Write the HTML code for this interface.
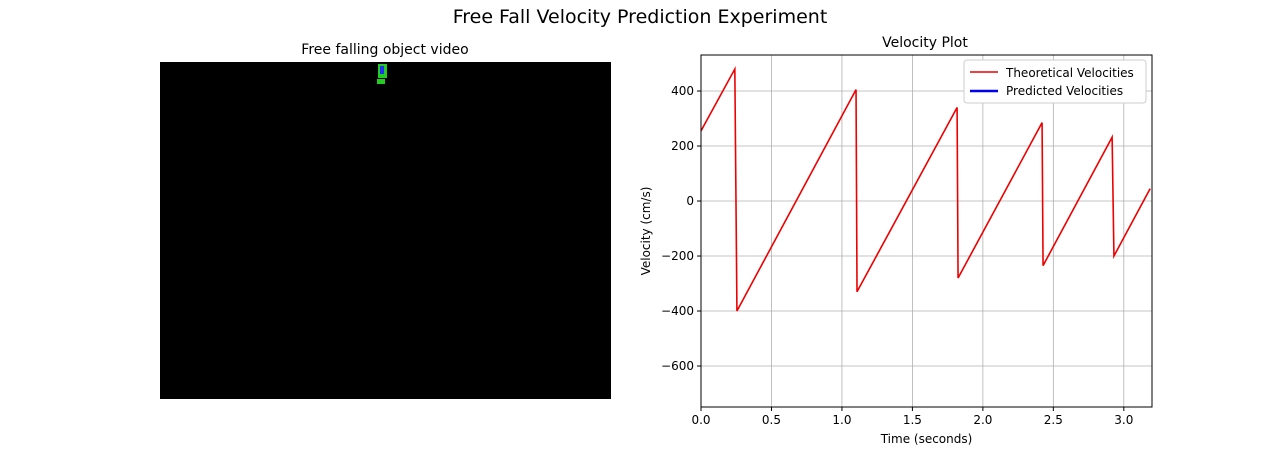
<!DOCTYPE html>
<html><head><meta charset="utf-8"><style>
body{margin:0;background:#fff;font-family:"Liberation Sans","DejaVu Sans",sans-serif}
</style></head><body>
<svg width="1280" height="457" style="font-family:'DejaVu Sans','Liberation Sans',sans-serif">
<text x="640" y="23" font-size="19" text-anchor="middle">Free Fall Velocity Prediction Experiment</text>
<text x="385" y="54" font-size="14" text-anchor="middle">Free falling object video</text>
<rect x="160" y="62" width="451" height="337" fill="#000"/>
<g>
<rect x="378" y="64" width="9" height="14" fill="#22cc22"/>
<rect x="380" y="66" width="4" height="8" fill="#2233ee"/>
<rect x="377" y="79" width="8" height="5" fill="#22cc22"/>
</g>
<text x="925" y="47" font-size="14" text-anchor="middle">Velocity Plot</text>
<g id="plot"></g>
</svg>
<script>
const times=[0,0.24,0.255,1.10,1.107,1.817,1.824,2.42,2.427,2.917,2.93,3.187];
const theoretical=[255,480,-400,405,-330,340,-280,285,-235,232,-200,45];
const xTicks=[0,0.5,1.0,1.5,2.0,2.5,3.0];
const xTickLabels=["0.0","0.5","1.0","1.5","2.0","2.5","3.0"];
const yTicks=[400,200,0,-200,-400,-600];
const yTickLabels=["400","200","0","\u2212200","\u2212400","\u2212600"];
const L=701,R=1152,T=55,B=407,xmin=0,xmax=3.2,ymin=-749,ymax=531;
const sx=v=>L+(v-xmin)/(xmax-xmin)*(R-L);
const sy=v=>B-(v-ymin)/(ymax-ymin)*(B-T);
const NS="http://www.w3.org/2000/svg";
const g=document.getElementById('plot');
function mk(t,a,p){const e=document.createElementNS(NS,t);for(const k in a)e.setAttribute(k,a[k]);(p||g).appendChild(e);return e;}
const ax=mk('rect',{x:L,y:T,width:R-L,height:B-T,fill:'#fff',stroke:'none'});


xTicks.forEach((v,i)=>{
 const gl=mk('line',{x1:sx(v),x2:sx(v),y1:T,y2:B,stroke:'#b0b0b0','stroke-width':0.8});
 
 
 mk('line',{x1:sx(v),x2:sx(v),y1:B,y2:B+4,stroke:'#000'});
 const t=mk('text',{x:sx(v),y:B+17,'font-size':12,'text-anchor':'middle'});t.textContent=xTickLabels[i];
 
 
});
yTicks.forEach((v,i)=>{
 const gl=mk('line',{x1:L,x2:R,y1:sy(v),y2:sy(v),stroke:'#b0b0b0','stroke-width':0.8});
 
 
 mk('line',{x1:L-4,x2:L,y1:sy(v),y2:sy(v),stroke:'#000'});
 const t=mk('text',{x:L-7,y:sy(v)+4,'font-size':12,'text-anchor':'end'});t.textContent=yTickLabels[i];
 
 
});
const line=mk('polyline',{points:times.map((t,i)=>sx(t)+','+sy(theoretical[i])).join(' '),fill:'none',stroke:'#ee0000','stroke-width':1.6});


const fr=mk('rect',{x:L,y:T,width:R-L,height:B-T,fill:'none',stroke:'#000','stroke-width':1});


const xl=mk('text',{x:(L+R)/2,y:443,'font-size':12,'text-anchor':'middle'});xl.textContent='Time (seconds)';


const yl=mk('text',{x:0,y:0,'font-size':12,'text-anchor':'middle',transform:`translate(650,${(T+B)/2}) rotate(-90)`});yl.textContent='Velocity (cm/s)';


const lg=mk('g',{});


mk('rect',{x:964,y:60,width:182,height:43,rx:3,fill:'#fff',stroke:'#ccc'},lg);
mk('line',{x1:970,x2:998,y1:72,y2:72,stroke:'#ee0000','stroke-width':1.6},lg);
mk('line',{x1:970,x2:998,y1:91,y2:91,stroke:'#0000ee','stroke-width':2.5},lg);
const l1=mk('text',{x:1006,y:77,'font-size':12},lg);l1.textContent='Theoretical Velocities';


const l2=mk('text',{x:1006,y:95,'font-size':12},lg);l2.textContent='Predicted Velocities';


</script>
</body></html>
